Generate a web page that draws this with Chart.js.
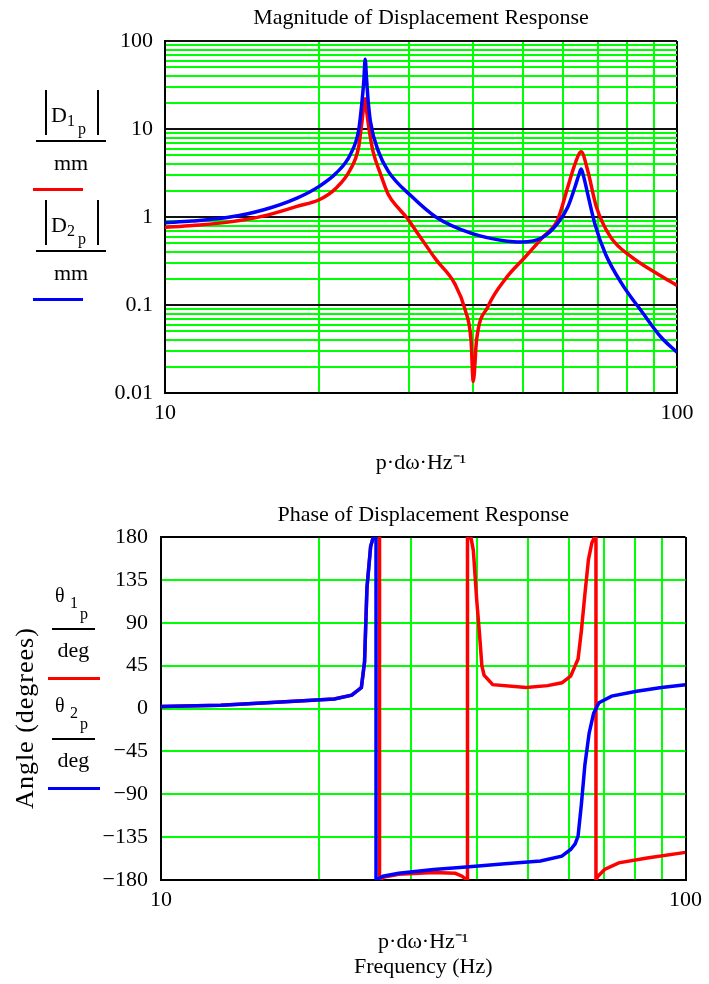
<!DOCTYPE html>
<html>
<head>
<meta charset="utf-8">
<title>Displacement Response</title>
<script src="https://cdn.jsdelivr.net/npm/chart.js@4.4.1/dist/chart.umd.min.js"></script>
<style>
    html, body { margin: 0; padding: 0; background: #fff; }
    #page { position: relative; width: 709px; height: 984px; overflow: hidden; font-family: "Liberation Serif", "Times New Roman", serif; color: #000; }
    canvas { position: absolute; left: 0; }
    .t { position: absolute; font-size: 22px; line-height: 22px; white-space: nowrap; }
    .s { font-size: 16px; line-height: 16px; }
    .th { font-size: 20px; line-height: 20px; }
    .c { text-align: center; }
    .rule { position: absolute; height: 2px; background: #000; }
    .key { position: absolute; height: 3px; }
    .abs { position: absolute; border-left: 2px solid #000; border-right: 2px solid #000; }
</style>
</head>
<body>
<div id="page">
    <canvas id="magChart" width="709" height="490" style="top:0"></canvas>
    <canvas id="phaseChart" width="709" height="494" style="top:490px"></canvas>

    <!-- magnitude labels -->
    <div class="abs" style="left:45px;top:90px;width:50px;height:45px"></div>
    <div class="t" style="left:51px;top:104px">D</div>
    <div class="t s" style="left:67px;top:113px">1</div>
    <div class="t s" style="left:78px;top:121px">p</div>
    <div class="rule" style="left:36px;top:140px;width:70px"></div>
    <div class="t c" style="left:36px;top:152px;width:70px">mm</div>
    <div class="key" style="left:33px;top:188px;width:50px;background:#ff0000"></div>

    <div class="abs" style="left:45px;top:200px;width:50px;height:45px"></div>
    <div class="t" style="left:51px;top:214px">D</div>
    <div class="t s" style="left:67px;top:223px">2</div>
    <div class="t s" style="left:78px;top:231px">p</div>
    <div class="rule" style="left:36px;top:250px;width:70px"></div>
    <div class="t c" style="left:36px;top:262px;width:70px">mm</div>
    <div class="key" style="left:33px;top:298px;width:50px;background:#0000ff"></div>

    <!-- phase labels -->
    <div class="t c" style="left:-75px;top:705px;width:200px;font-size:26px;line-height:26px;letter-spacing:1px;transform:rotate(-90deg)">Angle (degrees)</div>
    <div class="t th" style="left:55px;top:585px">θ</div>
    <div class="t s" style="left:70px;top:595px">1</div>
    <div class="t s" style="left:80px;top:606px">p</div>
    <div class="rule" style="left:52px;top:628px;width:43px"></div>
    <div class="t c" style="left:52px;top:639px;width:43px">deg</div>
    <div class="key" style="left:48px;top:677px;width:52px;background:#ff0000"></div>

    <div class="t th" style="left:55px;top:695px">θ</div>
    <div class="t s" style="left:70px;top:705px">2</div>
    <div class="t s" style="left:80px;top:716px">p</div>
    <div class="rule" style="left:52px;top:738px;width:43px"></div>
    <div class="t c" style="left:52px;top:749px;width:43px">deg</div>
    <div class="key" style="left:48px;top:787px;width:52px;background:#0000ff"></div>
</div>

<script>
// Magnitude |D1p| (red) and |D2p| (blue), mm
const magFreq1 = [10, 11.3, 13.4, 15.6, 18.1, 20.0, 21.6, 23.0, 23.9, 24.2, 24.45, 24.6, 24.8, 25.1, 25.5, 26.3, 27.3, 28.6, 29.6, 30.9, 33.8, 36.8, 38.6, 39.6, 40.0, 40.6, 42.7, 46.6, 50.5, 54.7, 58.4, 61.2, 63.2, 65.0, 66.9, 69.6, 74.2, 81.6, 91.5, 100];
const magD1 = [0.76, 0.8, 0.88, 1.03, 1.32, 1.57, 2.14, 3.44, 6.3, 11, 18, 22, 15, 9, 5.5, 3.2, 1.8, 1.25, 1.0, 0.7, 0.33, 0.175, 0.087, 0.04, 0.0135, 0.04, 0.095, 0.21, 0.35, 0.59, 0.92, 2.19, 4.0, 5.5, 3.4, 1.3, 0.59, 0.35, 0.227, 0.167];

const magFreq2 = [10, 11.3, 13.4, 15.6, 18.1, 20.0, 21.6, 23.0, 23.9, 24.2, 24.45, 24.6, 24.75, 24.95, 25.2, 26.1, 27.3, 30.2, 33.8, 39.7, 46.6, 49.7, 54.7, 58.4, 61.2, 63.2, 64.3, 65.0, 65.8, 66.9, 69.1, 72.5, 78, 85.9, 93.1, 100];
const magD2 = [0.86, 0.9, 1.0, 1.21, 1.64, 2.23, 3.16, 5.1, 9.8, 18, 35, 62, 38, 20, 12, 5.6, 3.3, 1.75, 1.0, 0.65, 0.53, 0.52, 0.59, 0.84, 1.3, 2.19, 3.0, 3.5, 2.8, 1.84, 0.84, 0.38, 0.175, 0.08, 0.043, 0.029];

// Phase θ1p (red) and θ2p (blue), degrees
const phaseFreq1 = [10, 13, 18.3, 21.4, 23.1, 24.1, 24.44, 24.7, 25.1, 25.4, 26.1, 26.1, 26.6, 28.4, 33.1, 36.4, 37.5, 38.1, 38.4, 38.4, 39.0, 39.4, 40.0, 40.5, 40.9, 41.3, 42.9, 49.7, 54.6, 58.1, 60.4, 62.4, 63.3, 64.3, 65.3, 66.3, 67.1, 67.5, 67.5, 68.1, 70.1, 74.6, 84.5, 100];
const phaseTheta1 = [2, 3.5, 8, 10, 14, 22, 49, 127, 170, 180, 180, -180, -177, -174, -172, -173, -176, -179, -180, 180, 179, 166, 113, 77, 45, 35, 25, 22, 24, 27, 34, 52, 81, 120, 156, 174, 180, 180, -180, -176, -169, -162, -157, -151];

const phaseFreq2 = [10, 13, 18.3, 21.4, 23.1, 24.1, 24.44, 24.7, 25.1, 25.4, 25.7, 25.7, 26.5, 28.4, 33.1, 38.7, 45.3, 52.9, 58.1, 60.4, 61.6, 62.4, 63.3, 64.3, 65.5, 66.8, 68.4, 72.3, 80.7, 90, 100];
const phaseTheta2 = [2, 3.5, 8, 10, 14, 22, 49, 127, 170, 180, 180, -180, -176, -173, -169, -166, -163, -160, -155, -148, -142, -134, -101, -59, -26, -5, 6, 13, 18, 22, 25];

// Axes
const freqGrid = [10, 20, 30, 40, 50, 60, 70, 80, 90, 100];
const freqLabels = ['10', '', '', '', '', '', '', '', '', '100'];
const magDecades = [0.01, 0.1, 1, 10, 100];
const magDecadeLabels = ['0.01', '0.1', '1', '10', '100'];
const phaseTicks = [-180, -135, -90, -45, 0, 45, 90, 135, 180];
const phaseLabels = ['\u2212180', '\u2212135', '\u221290', '\u221245', '0', '45', '90', '135', '180'];

const GREEN = '#00ff00';
const RED = '#ff0000';
const BLUE = '#0000ff';
const FONT = '"Liberation Serif", "Times New Roman", serif';

Chart.defaults.font.family = FONT;
Chart.defaults.color = '#000';

const pts = (xs, ys) => xs.map((x, i) => ({ x: x, y: ys[i] }));

// minor grid values 1..9 per decade
const magGrid = [];
magDecades.forEach((d, i) => {
    if (i === magDecades.length - 1) { magGrid.push(d); return; }
    for (let k = 1; k <= 9; k++) magGrid.push(+(d * k).toPrecision(3));
});

function isEdgeFreq(v) { return v === freqGrid[0] || v === freqGrid[freqGrid.length - 1]; }

function freqAxis(height, titleText, titleBottom) {
    return {
        type: 'logarithmic',
        min: 10,
        max: 100,
        afterBuildTicks: s => { s.ticks = freqGrid.map(v => ({ value: v })); },
        afterFit: s => { s.height = height; },
        ticks: {
            autoSkip: false, maxRotation: 0, padding: 7,
            font: { size: 22 }, color: '#000',
            callback: v => { const i = freqGrid.indexOf(v); return i >= 0 ? freqLabels[i] : ''; }
        },
        grid: {
            drawTicks: false,
            color: c => (c.tick && isEdgeFreq(c.tick.value)) ? '#000' : GREEN,
            lineWidth: 2
        },
        border: { display: true, color: '#000', width: 2 },
        title: {
            display: true, text: titleText,
            font: { size: 22, lineHeight: 1.15 }, color: '#000',
            padding: { top: 0, bottom: titleBottom }
        }
    };
}

function lineSet(label, data, color, order, smooth) {
    return {
        label: label,
        data: data,
        showLine: true,
        borderColor: color,
        backgroundColor: color,
        borderWidth: 3.5,
        pointRadius: 0,
        tension: 0,
        cubicInterpolationMode: smooth ? 'monotone' : 'default',
        order: order
    };
}

// Magnitude chart
new Chart(document.getElementById('magChart').getContext('2d'), {
    type: 'scatter',
    data: {
        datasets: [
            lineSet('|D1p| / mm', pts(magFreq1, magD1), RED, 1, true),
            lineSet('|D2p| / mm', pts(magFreq2, magD2), BLUE, 0, true)
        ]
    },
    options: {
        responsive: false,
        animation: false,
        events: [],
        layout: { padding: { left: 0, right: 32, top: 0, bottom: 0 }, autoPadding: false },
        plugins: {
            legend: { display: false },
            tooltip: { enabled: false },
            title: {
                display: true, fullSize: false,
                text: 'Magnitude of Displacement Response',
                font: { size: 22, weight: 'normal' }, color: '#000',
                padding: { top: 5, bottom: 9.6 }
            }
        },
        scales: {
            x: freqAxis(97, 'p·dω·Hz⁻¹', 14),
            y: {
                type: 'logarithmic',
                min: 0.01,
                max: 100,
                afterBuildTicks: s => { s.ticks = magGrid.map(v => ({ value: v })); },
                afterFit: s => { s.width = 165; },
                ticks: {
                    autoSkip: false, padding: 12, font: { size: 22 }, color: '#000',
                    callback: v => { const i = magDecades.indexOf(v); return i >= 0 ? magDecadeLabels[i] : ''; }
                },
                grid: {
                    drawTicks: false,
                    color: c => (c.tick && magDecades.includes(c.tick.value)) ? '#111' : GREEN,
                    lineWidth: 2
                },
                border: { display: true, color: '#000', width: 2 }
            }
        }
    }
});

// Phase chart
new Chart(document.getElementById('phaseChart').getContext('2d'), {
    type: 'scatter',
    data: {
        datasets: [
            lineSet('θ1p / deg', pts(phaseFreq1, phaseTheta1), RED, 1, false),
            lineSet('θ2p / deg', pts(phaseFreq2, phaseTheta2), BLUE, 0, false)
        ]
    },
    options: {
        responsive: false,
        animation: false,
        events: [],
        layout: { padding: { left: 0, right: 21, top: 0, bottom: 0 }, autoPadding: false },
        plugins: {
            legend: { display: false },
            tooltip: { enabled: false },
            title: {
                display: true, fullSize: false,
                text: 'Phase of Displacement Response',
                font: { size: 22, weight: 'normal' }, color: '#000',
                padding: { top: 11.8, bottom: 8.8 }
            }
        },
        scales: {
            x: freqAxis(104, ['p·dω·Hz⁻¹', 'Frequency (Hz)'], 4),
            y: {
                type: 'linear',
                min: -180,
                max: 180,
                afterBuildTicks: s => { s.ticks = phaseTicks.map(v => ({ value: v })); },
                afterFit: s => { s.width = 161; },
                ticks: {
                    autoSkip: false, padding: 13, font: { size: 22 }, color: '#000',
                    callback: v => { const i = phaseTicks.indexOf(v); return i >= 0 ? phaseLabels[i] : ''; }
                },
                grid: {
                    drawTicks: false,
                    color: c => (c.tick && (c.tick.value === -180 || c.tick.value === 180)) ? '#000' : GREEN,
                    lineWidth: 2
                },
                border: { display: true, color: '#000', width: 2 }
            }
        }
    }
});
</script>
</body>
</html>
